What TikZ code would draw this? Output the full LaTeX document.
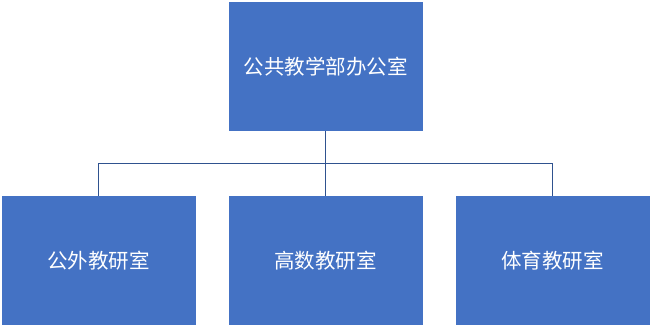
\documentclass[tikz,border=0pt]{standalone}
\usepackage{fontspec}
\usepackage{xcolor}
\usepackage{tikz}
\usetikzlibrary{positioning}
\newfontfamily\cjk{Noto Sans CJK SC}
\definecolor{boxblue}{HTML}{4472C4}
\definecolor{lineblue}{HTML}{2F528F}

\begin{document}
\begin{tikzpicture}[x=1pt, y=-1pt, node distance=194pt and 227pt, on grid,
    office/.style={rectangle, fill=boxblue, minimum width=194pt, minimum height=129pt,
                   inner sep=0pt, text=white, font=\cjk\fontsize{20.5}{23}\selectfont},
    conn/.style={draw=lineblue, line width=0.8pt}]
   \useasboundingbox (0,0) rectangle (652,327);
   \node[office] (top) at (325.5,66.5) {公共教学部办公室};
   \node[office] (mid) [below=of top] {高数教研室};
   \node[office] (left) [left=of mid] {公外教研室};
   \node[office] (right) [right=of mid] {体育教研室};

   \coordinate[below=32pt of top.south] (split);
   \path[conn]
    (top.south) -- (split)
    (split) -- (mid.north)
    (split) -| (left.north)
    (split) -| (right.north);
\end{tikzpicture}
\end{document}
